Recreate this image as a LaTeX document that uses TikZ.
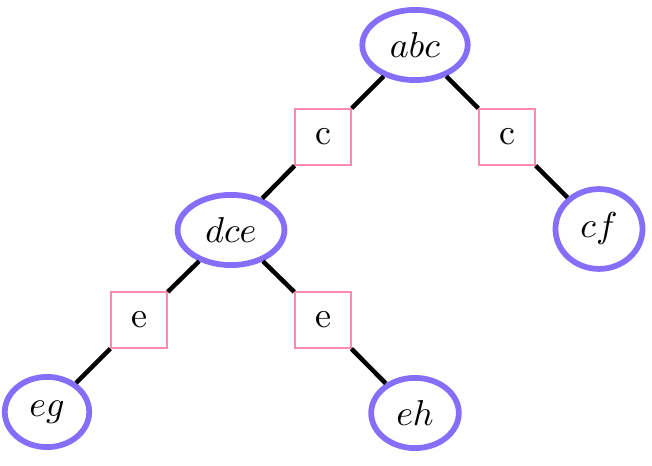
\documentclass[tikz,border=0pt]{standalone}
\usepackage{xcolor}
\usepackage{tikz}
\usetikzlibrary{shapes.geometric}
\definecolor{setpurple}{RGB}{135,110,250}
\definecolor{seppink}{RGB}{255,136,180}
\tikzset{
    clique/.style={ellipse, draw=setpurple, line width=1.6pt, inner sep=3.4pt, minimum height=19.5pt},
    sepset/.style={rectangle, draw=seppink, line width=0.45pt, minimum size=15.5pt, inner sep=0pt},
    link/.style={line width=1.25pt, black}
}

\begin{document}
\begin{tikzpicture}[x=0.2778pt, y=-0.2778pt]
    \useasboundingbox (0,0) rectangle (652,466);
    \node[clique] (abc) at (415,45) {$abc$};
    \node[sepset] (c1) at (323,137) {c};
    \node[sepset] (c2) at (507,137) {c};
    \node[clique] (dce) at (231,230) {$dce$};
    \node[clique] (cf) at (599,229) {$cf$};
    \node[sepset] (e1) at (139,320) {e};
    \node[sepset] (e2) at (323,320) {e};
    \node[clique] (eg) at (47,412) {$eg$};
    \node[clique] (eh) at (415,413) {$eh$};
    \draw[link] (abc) -- (c1) -- (dce);
    \draw[link] (abc) -- (c2) -- (cf);
    \draw[link] (dce) -- (e1) -- (eg);
    \draw[link] (dce) -- (e2) -- (eh);
\end{tikzpicture}
\end{document}
